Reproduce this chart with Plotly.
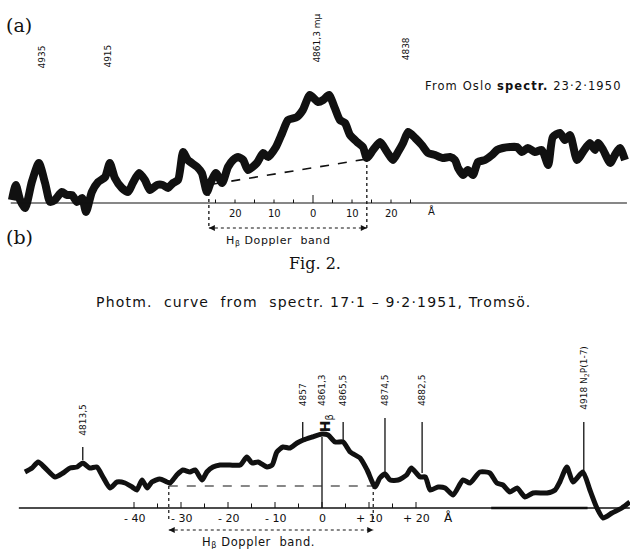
import plotly.graph_objects as go

# ---------------- data: panel (a) (offset from H-beta in Angstrom, relative intensity) ----------
a_offset = [-77.2, -76.2, -75.1, -73.8, -72.1, -70.3, -68.7, -67.4, -66.2, -64.4, -63.1, -61.8,
            -60.5, -59.2, -58.2, -56.7, -55.1, -53.3, -52.1, -50.8, -49.0, -47.4, -46.2, -44.6,
            -43.1, -41.8, -40.0, -38.5, -37.2, -35.9, -34.6, -33.3, -32.1, -29.7, -28.5, -27.2,
            -26.2, -24.9, -23.3, -21.8, -20.5, -19.2, -17.9, -16.7, -14.4, -12.8, -11.5, -9.5,
            -7.9, -6.4, -4.1, -2.6, -0.8, 1.3, 2.6, 4.1, 5.6, 6.9, 8.2, 9.5, 11.3, 12.8, 13.8,
            15.4, 17.2, 19.0, 20.5, 21.8, 23.1, 24.4, 26.2, 27.9, 29.5, 31.3, 33.3, 35.1, 36.4,
            37.2, 38.5, 39.7, 41.0, 42.3, 44.1, 45.9, 47.2, 48.7, 50.5, 52.3, 53.6, 55.1, 56.9,
            58.7, 60.3, 61.5, 63.3, 64.6, 65.9, 67.7, 69.2, 71.0, 72.3, 73.1, 74.4, 76.2, 77.4,
            78.7, 80.0]
a_intensity = [0.3, 1.8, 0.3, -0.5, 2.1, 4.0, 2.0, 0.1, 0.3, 1.1, 0.8, 0.8,
               0.1, 0.5, -0.9, 1.1, 2.1, 2.6, 4.0, 2.5, 1.5, 1.1, 2.0, 3.0,
               2.3, 1.3, 1.8, 1.8, 1.5, 2.0, 2.3, 5.1, 4.3, 3.6, 3.0, 1.1,
               2.1, 3.0, 2.0, 3.6, 4.3, 4.6, 4.3, 3.3, 4.0, 5.0, 4.6, 5.6,
               7.0, 8.3, 8.6, 9.3, 10.8, 10.1, 10.3, 10.8, 9.5, 8.3, 8.0, 6.8, 6.1, 5.6, 4.5,
               5.3, 6.1, 5.1, 4.3, 5.1, 6.0, 7.1, 6.5, 5.8, 5.0, 4.8, 4.5, 4.6, 4.3,
               3.5, 2.8, 3.3, 2.8, 4.1, 4.3, 4.8, 5.3, 5.5, 5.6, 5.6, 5.1, 5.5, 5.1,
               5.3, 3.8, 6.6, 7.0, 6.3, 6.8, 4.3, 5.1, 6.0, 5.3, 6.0, 5.3, 4.0, 4.8,
               5.5, 4.3]
a_band = [-26.7, 13.8]                 # Doppler band limits (A)
a_cont = [1.9, 4.4]                    # dashed continuum levels at band limits
a_tick_labels = ["20", "10", "0", "10", "20"]
a_tick_vals = [-20, -10, 0, 10, 20]
a_line_labels = ["4935", "4915", "4861,3 mμ", "4838"]
a_line_pos = [-69.5, -52.8, 0.8, 23.8]
a_line_top = [13.3, 13.3, 13.8, 14.1]

# ---------------- data: panel (b) ----------------
b_offset = [-63.2, -61.7, -60.4, -58.9, -56.8, -55.1, -53.6, -52.1, -50.9, -49.4, -47.9, -46.6,
            -45.1, -43.6, -41.9, -40.4, -39.4, -38.3, -37.2, -36.2, -34.5, -33.0, -32.3, -30.9,
            -29.6, -28.1, -27.0, -25.5, -24.5, -23.2, -21.7, -19.6, -17.4, -16.0, -14.9, -13.6,
            -11.7, -10.6, -9.6, -8.3, -6.8, -5.3, -4.0, -2.1, 0.0, 1.3, 2.8, 4.5, 6.0, 8.1,
            9.6, 11.3, 12.3, 13.4, 14.5, 16.2, 18.0, 19.0, 20.9, 22.0, 23.0, 24.7, 26.2, 27.9,
            30.0, 31.5, 33.6, 35.7, 37.2, 38.5, 40.0, 41.5, 43.2, 44.9, 47.9, 49.6, 50.6, 52.1,
            53.4, 55.5, 57.0, 58.5, 59.8, 61.7, 63.8, 65.5]
b_intensity = [3.6, 4.0, 4.6, 4.0, 3.1, 3.5, 4.0, 4.1, 4.5, 4.0, 4.1, 3.1,
               2.0, 2.6, 2.5, 2.1, 1.8, 2.8, 2.0, 2.6, 2.9, 2.6, 2.5, 3.3,
               3.8, 3.6, 3.8, 2.8, 3.6, 4.1, 4.3, 4.3, 4.3, 5.1, 4.5, 4.6,
               4.1, 4.3, 5.6, 6.1, 6.0, 6.5, 6.8, 7.1, 7.4, 7.3, 6.6, 6.6, 5.6, 5.0,
               3.8, 2.1, 3.0, 3.4, 2.8, 2.8, 3.3, 4.0, 3.1, 3.1, 1.8, 2.1, 2.0, 1.3,
               2.8, 2.5, 3.6, 3.5, 2.5, 2.3, 1.6, 2.0, 1.1, 1.5, 1.5, 1.8, 2.6, 4.1,
               2.6, 3.6, 1.8, 0.0, -1.0, -0.5, 0.0, 0.6]
b_band = [-32.6, 10.9]
b_cont = [2.2, 2.2]
b_tick_labels = ["- 40", "- 30", "- 20", "- 10", "0", "+ 10", "+ 20"]
b_tick_vals = [-40, -30, -20, -10, 0, 10, 20]
b_line_labels = ["4813,5", "4857", "4861,3", "4865,5", "4874,5", "4882,5", "4918 N<sub>2</sub>P(1-7)"]
b_line_pos = [-50.9, -4.1, 0.0, 4.5, 13.4, 21.3, 55.7]
b_line_label_base = [7.0, 10.0, 10.0, 10.0, 10.0, 10.0, 9.6]
b_line_top = [6.1, 8.6, 7.1, 8.6, 9.0, 8.6, 8.6]
b_line_bottom = [4.8, 6.8, 0.0, 6.6, 3.5, 3.5, 3.5]

# ---------------- layout constants ----------------
W, H = 630, 549
A_ZERO_PX, A_PX_PER_A, A_BASE_PX = 313, 3.9, 203
B_ZERO_PX, B_PX_PER_A, B_BASE_PX = 322, 4.7, 508
UNIT_PX = 10.0

ink = "#111111"
letter = "DejaVu Sans"
serif = "DejaVu Serif"


def spaced(text, px):
    return '<span style="letter-spacing:%.1fpx">%s</span>' % (px, text)


fig = go.Figure()

# ---- panel (a) ----
fig.add_trace(go.Scatter(x=a_offset, y=a_intensity, mode="lines",
                         line=dict(color=ink, width=8, shape="spline", smoothing=0.6),
                         xaxis="x", yaxis="y", hoverinfo="skip"))
fig.add_trace(go.Scatter(x=[a_offset[0] - 0.3, a_offset[-1] + 0.5], y=[0, 0], mode="lines",
                         line=dict(color=ink, width=1.2), xaxis="x", yaxis="y"))
for v in range(-25, 30, 5):
    h = 0.8 if v == 0 else 0.35
    fig.add_trace(go.Scatter(x=[v, v], y=[0, h], mode="lines",
                             line=dict(color=ink, width=1), xaxis="x", yaxis="y"))
fig.add_trace(go.Scatter(x=[a_band[0] + 1.2, a_band[1]], y=a_cont, mode="lines",
                         line=dict(color=ink, width=1.6, dash="dash"), xaxis="x", yaxis="y"))
for xv, yv in zip(a_band, [1.0, a_cont[1]]):
    fig.add_trace(go.Scatter(x=[xv, xv], y=[yv, -2.5], mode="lines",
                             line=dict(color=ink, width=1.3, dash="dot"), xaxis="x", yaxis="y"))
fig.add_trace(go.Scatter(x=a_band, y=[-2.5, -2.5], mode="lines+markers",
                         line=dict(color=ink, width=1.2, dash="dot"),
                         marker=dict(symbol=["arrow-left", "arrow-right"], size=6, color=ink),
                         xaxis="x", yaxis="y"))

# ---- panel (b) ----
fig.add_trace(go.Scatter(x=b_offset, y=b_intensity, mode="lines",
                         line=dict(color=ink, width=5, shape="spline", smoothing=0.6),
                         xaxis="x2", yaxis="y2", hoverinfo="skip"))
fig.add_trace(go.Scatter(x=[-64.5, 65.5], y=[0, 0], mode="lines",
                         line=dict(color=ink, width=1.3), xaxis="x2", yaxis="y2"))
fig.add_trace(go.Scatter(x=[36.0, 56.5], y=[0, 0], mode="lines",
                         line=dict(color=ink, width=2.6), xaxis="x2", yaxis="y2"))
for v in range(-40, 25, 5):
    h = 0.6 if v % 10 == 0 else 0.45
    fig.add_trace(go.Scatter(x=[v, v], y=[0, h], mode="lines",
                             line=dict(color=ink, width=1), xaxis="x2", yaxis="y2"))
fig.add_trace(go.Scatter(x=b_band, y=b_cont, mode="lines",
                         line=dict(color=ink, width=1.1, dash="dash"), xaxis="x2", yaxis="y2"))
for xv in b_band:
    fig.add_trace(go.Scatter(x=[xv, xv], y=[b_cont[0], -1.3], mode="lines",
                             line=dict(color=ink, width=1.2, dash="dot"), xaxis="x2", yaxis="y2"))
fig.add_trace(go.Scatter(x=b_band, y=[-2.2, -2.2], mode="lines+markers",
                         line=dict(color=ink, width=1.1, dash="dot"),
                         marker=dict(symbol=["arrow-left", "arrow-right"], size=6, color=ink),
                         xaxis="x2", yaxis="y2"))
for xp, top, bot in zip(b_line_pos, b_line_top, b_line_bottom):
    fig.add_trace(go.Scatter(x=[xp, xp], y=[bot, top], mode="lines",
                             line=dict(color=ink, width=1.3), xaxis="x2", yaxis="y2"))

annotations = []
# panel (a) texts
for t, v in zip(a_tick_labels, a_tick_vals):
    annotations.append(dict(x=v, y=-1.0, xref="x", yref="y", text=t, showarrow=False,
                            font=dict(family=letter, size=10, color=ink)))
annotations.append(dict(x=30.5, y=-0.8, xref="x", yref="y", text="Å", showarrow=False,
                        font=dict(family=letter, size=10, color=ink)))
for t, xp, yt in zip(a_line_labels, a_line_pos, a_line_top):
    annotations.append(dict(x=xp, y=yt, xref="x", yref="y", text=t, showarrow=False,
                            textangle=-90, xanchor="center", yanchor="bottom",
                            font=dict(family=letter, size=9, color=ink)))
annotations.append(dict(x=-9.0, y=-3.8, xref="x", yref="y",
                        text=spaced("H<sub>β</sub> Doppler  band", 0.6), showarrow=False,
                        font=dict(family=letter, size=11, color=ink)))
annotations.append(dict(x=624, y=H - 77, xref="paper", yref="paper",
                        text=spaced("From Oslo <b>spectr.</b> 23·2·1950", 1.1), showarrow=False,
                        xanchor="right", font=dict(family=letter, size=11.5, color=ink)))
# panel (b) texts
for t, v in zip(b_tick_labels, b_tick_vals):
    annotations.append(dict(x=v, y=-1.0, xref="x2", yref="y2", text=t, showarrow=False,
                            font=dict(family=letter, size=11, color=ink)))
annotations.append(dict(x=27.0, y=-0.9, xref="x2", yref="y2", text="Å", showarrow=False,
                        font=dict(family=letter, size=12, color=ink)))
for t, xp, yb in zip(b_line_labels, b_line_pos, b_line_label_base):
    annotations.append(dict(x=xp, y=yb, xref="x2", yref="y2", text=t, showarrow=False,
                            textangle=-90, xanchor="center", yanchor="bottom",
                            font=dict(family=letter, size=9, color=ink)))
annotations.append(dict(x=0.9, y=8.5, xref="x2", yref="y2", text="<b>H</b><sub>β</sub>",
                        showarrow=False, textangle=-90,
                        font=dict(family=letter, size=14, color=ink)))
annotations.append(dict(x=-13.6, y=-3.4, xref="x2", yref="y2",
                        text=spaced("H<sub>β</sub> Doppler  band.", 0.6), showarrow=False,
                        font=dict(family=letter, size=11.5, color=ink)))
annotations.append(dict(x=313, y=H - 302, xref="paper", yref="paper",
                        text=spaced("Photm.  curve  from  spectr. 17·1 – 9·2·1951, Tromsö.", 1.2),
                        showarrow=False, font=dict(family=letter, size=14, color=ink)))
# figure labels
annotations.append(dict(x=4, y=H - 12, xref="paper", yref="paper", text="(a)", showarrow=False,
                        xanchor="left", font=dict(family=serif, size=19, color=ink)))
annotations.append(dict(x=4, y=H - 237, xref="paper", yref="paper", text="(b)", showarrow=False,
                        xanchor="left", font=dict(family=serif, size=19, color=ink)))
annotations.append(dict(x=315, y=H - 263, xref="paper", yref="paper", text="Fig. 2.",
                        showarrow=False, font=dict(family=serif, size=16, color=ink)))

for an in annotations:
    if an["xref"] == "paper":
        an["x"] = an["x"] / W
        an["y"] = an["y"] / H

ax_common = dict(visible=False, showgrid=False, zeroline=False, fixedrange=True)
fig.update_layout(
    width=W, height=H, margin=dict(l=0, r=0, t=0, b=0),
    paper_bgcolor="white", plot_bgcolor="rgba(0,0,0,0)", showlegend=False,
    xaxis=dict(domain=[0, 1], anchor="y",
               range=[-A_ZERO_PX / A_PX_PER_A, (W - A_ZERO_PX) / A_PX_PER_A], **ax_common),
    yaxis=dict(domain=[0, 1], anchor="x",
               range=[-(H - A_BASE_PX) / UNIT_PX, A_BASE_PX / UNIT_PX], **ax_common),
    xaxis2=dict(domain=[0, 1], anchor="y2",
                range=[-B_ZERO_PX / B_PX_PER_A, (W - B_ZERO_PX) / B_PX_PER_A], **ax_common),
    yaxis2=dict(domain=[0, 1], anchor="x2",
                range=[-(H - B_BASE_PX) / UNIT_PX, B_BASE_PX / UNIT_PX], **ax_common),
    annotations=annotations,
)

fig.write_html("out.html", config={"displayModeBar": False},
               post_script="document.body.style.margin='0px';document.body.style.overflow='hidden';")
